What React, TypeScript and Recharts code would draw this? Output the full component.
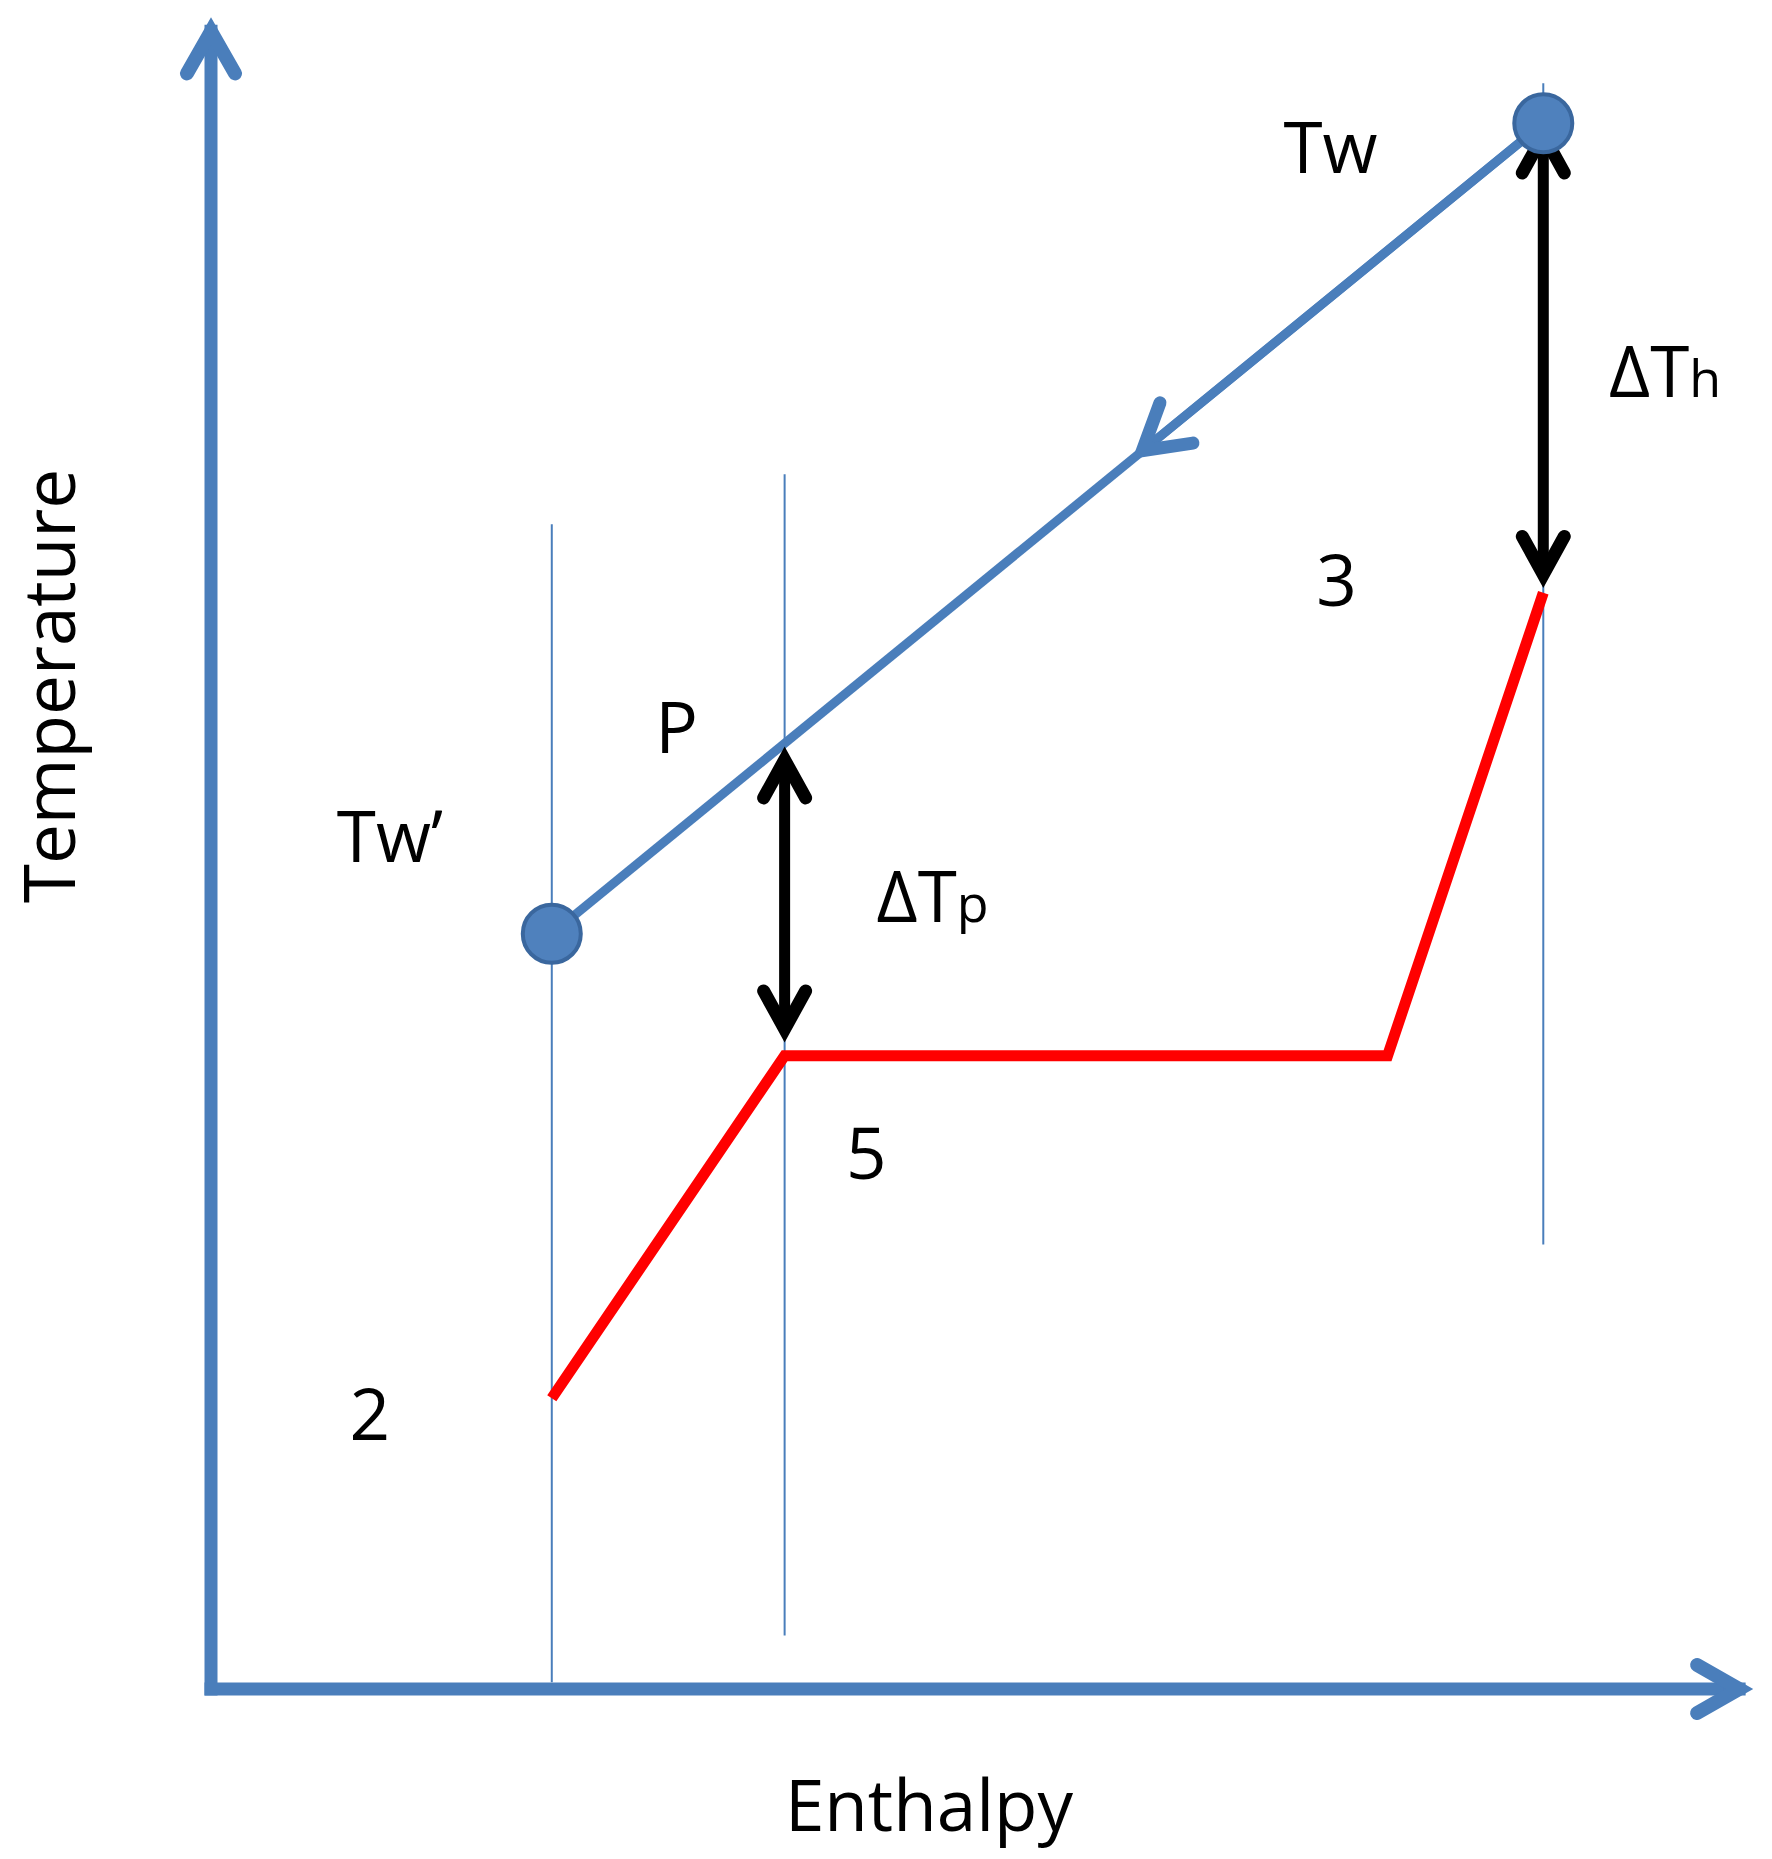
import { ComposedChart, Line, Scatter, XAxis, YAxis } from "recharts";

// plot box = the two blue axes, both domains 0..100
const WIDTH = 1772;
const HEIGHT = 1859;
const BLUE = "#4A7EBB";
const DOT_FILL = "#4F81BD";
const DOT_EDGE = "#3A679E";
const RED = "#FF0000";
const FONT = "'Open Sans', 'Noto Sans', sans-serif";

const yAxisLine = [
  { x: 0, y: 0 },
  { x: 0, y: 99.2 },
];
const xAxisLine = [
  { x: 0, y: 0 },
  { x: 99.1, y: 0 },
];

// thin vertical guides at Tw', P and Tw
const guideLeft = [
  { x: 22.1, y: 69.7 },
  { x: 22.1, y: 0.4 },
];
const guideMid = [
  { x: 37.2, y: 72.7 },
  { x: 37.2, y: 3.2 },
];
const guideRight = [
  { x: 86.4, y: 96.1 },
  { x: 86.4, y: 26.6 },
];

// hot water line Tw' -> Tw, and the flow arrow sitting on it
const waterLine = [
  { x: 22.1, y: 45.2 },
  { x: 86.4, y: 93.7 },
];
const flowArrow = [
  { x: 86.4, y: 93.7 },
  { x: 60.4, y: 74.1 },
];

// working fluid: 2 -> 5 -> saturation -> 3
const fluidLine = [
  { x: 22.1, y: 17.4 },
  { x: 37.2, y: 37.9 },
  { x: 76.3, y: 37.9 },
  { x: 86.4, y: 65.6 },
];

// pinch and hot-end temperature differences
const pinchGap = [
  { x: 37.2, y: 55.6 },
  { x: 37.2, y: 39.5 },
];
const hotEndGap = [
  { x: 86.4, y: 93.0 },
  { x: 86.4, y: 66.7 },
];

const labels = [
  { x: 72.6, y: 90.7, text: "Tw", sub: "" },
  { x: 94.3, y: 77.3, text: "ΔT", sub: "h" },
  { x: 73.0, y: 64.8, text: "3", sub: "" },
  { x: 30.2, y: 56.0, text: "P", sub: "" },
  { x: 11.6, y: 49.5, text: "Tw’", sub: "" },
  { x: 46.8, y: 45.9, text: "ΔT", sub: "p" },
  { x: 42.5, y: 30.5, text: "5", sub: "" },
  { x: 10.3, y: 14.9, text: "2", sub: "" },
];

function LabelMark(props: any) {
  const { cx, cy, payload } = props;
  return (
    <text x={cx} y={cy} textAnchor="middle" fontFamily={FONT} fontSize={71} fill="#000">
      {payload.text}
      {payload.sub ? <tspan fontSize={52}>{payload.sub}</tspan> : null}
    </text>
  );
}

export default function App() {
  return (
    <div style={{ position: "absolute", left: 0, top: 0, width: WIDTH, height: HEIGHT, background: "#fff" }}>
      <ComposedChart
        width={WIDTH}
        height={HEIGHT}
        margin={{ top: 18, right: 19, bottom: 170, left: 211 }}
      >
        <defs>
          <marker id="axisHead" markerUnits="userSpaceOnUse" orient="auto" overflow="visible" markerWidth={1} markerHeight={1} refX={0} refY={0}>
            <path d="M -42 -24 L 0 0 L -42 24" fill="none" stroke={BLUE} strokeWidth={14} strokeLinecap="round" strokeLinejoin="miter" />
          </marker>
          <marker id="flowHead" markerUnits="userSpaceOnUse" orient="auto" overflow="visible" markerWidth={1} markerHeight={1} refX={0} refY={0}>
            <path d="M -44 -26 L 0 0 L -44 26" fill="none" stroke={BLUE} strokeWidth={13} strokeLinecap="round" strokeLinejoin="miter" />
          </marker>
          <marker id="gapHead" markerUnits="userSpaceOnUse" orient="auto-start-reverse" overflow="visible" markerWidth={1} markerHeight={1} refX={0} refY={0}>
            <path d="M -38 -21 L 0 0 L -38 21" fill="none" stroke="#000" strokeWidth={13} strokeLinecap="round" strokeLinejoin="miter" />
          </marker>
        </defs>
        <XAxis type="number" dataKey="x" domain={[0, 100]} hide />
        <YAxis type="number" domain={[0, 100]} hide />

        <Line data={guideLeft} dataKey="y" stroke={BLUE} strokeWidth={2} dot={false} isAnimationActive={false} />
        <Line data={guideMid} dataKey="y" stroke={BLUE} strokeWidth={2} dot={false} isAnimationActive={false} />
        <Line data={guideRight} dataKey="y" stroke={BLUE} strokeWidth={2} dot={false} isAnimationActive={false} />

        <Line data={yAxisLine} dataKey="y" stroke={BLUE} strokeWidth={13} strokeLinecap="square" dot={false} markerEnd="url(#axisHead)" isAnimationActive={false} />
        <Line data={xAxisLine} dataKey="y" stroke={BLUE} strokeWidth={13} strokeLinecap="square" dot={false} markerEnd="url(#axisHead)" isAnimationActive={false} />

        <Line data={fluidLine} dataKey="y" type="linear" stroke={RED} strokeWidth={11} strokeLinejoin="miter" dot={false} isAnimationActive={false} />

        <Line
          data={waterLine}
          dataKey="y"
          type="linear"
          stroke={BLUE}
          strokeWidth={9}
          dot={{ r: 29, fill: DOT_FILL, stroke: DOT_EDGE, strokeWidth: 4 }}
          isAnimationActive={false}
        />
        <Line data={flowArrow} dataKey="y" type="linear" stroke={BLUE} strokeWidth={9} dot={false} markerEnd="url(#flowHead)" isAnimationActive={false} />

        <Line data={pinchGap} dataKey="y" stroke="#000" strokeWidth={11} dot={false} markerStart="url(#gapHead)" markerEnd="url(#gapHead)" isAnimationActive={false} />
        <Line data={hotEndGap} dataKey="y" stroke="#000" strokeWidth={11} dot={false} markerStart="url(#gapHead)" markerEnd="url(#gapHead)" isAnimationActive={false} />

        <Scatter data={labels} dataKey="y" shape={LabelMark} isAnimationActive={false} />
      </ComposedChart>

      <svg width={WIDTH} height={HEIGHT} style={{ position: "absolute", left: 0, top: 0, pointerEvents: "none" }}>
        <text x={75} y={686} transform="rotate(-90 75 686)" textAnchor="middle" fontFamily={FONT} fontSize={71} fill="#000">
          Temperature
        </text>
        <text x={929} y={1831} textAnchor="middle" fontFamily={FONT} fontSize={71} fill="#000">
          Enthalpy
        </text>
      </svg>
    </div>
  );
}
